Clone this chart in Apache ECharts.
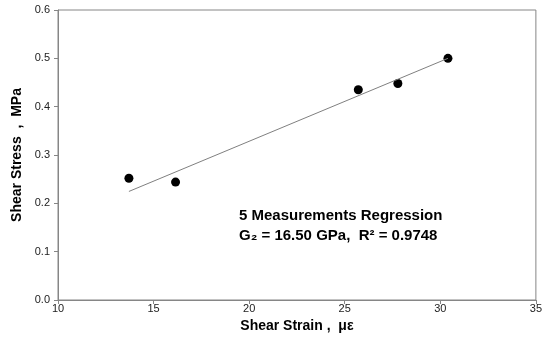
<!DOCTYPE html>
<html>
<head>
<meta charset="utf-8">
<script src="https://cdn.jsdelivr.net/npm/echarts@6/dist/echarts.min.js"></script>
<style>
	html, body { margin: 0; padding: 0; background: #fff; }
	#chart { width: 545px; height: 341px; }
</style>
</head>
<body>
<div id="chart"></div>
<script>
/* Measured points (shear strain in microstrain, shear stress in MPa) */
const strainValues = [13.71, 16.15, 25.71, 27.78, 30.40];
const stressValues = [0.252, 0.244, 0.435, 0.448, 0.500];

/* Regression line end points */
const fitStrain = [13.71, 30.40];
const fitStress = [0.2246, 0.500];

const annotationLines = [
	"5 Measurements Regression",
	"G\u2082 = 16.50 GPa,  R\u00b2 = 0.9748",
];

const axisStyle = () => ({
	lineStyle: { color: "#868686", width: 1 },
});

const chart = echarts.init(document.getElementById("chart"));

chart.setOption({
	animation: false,
	backgroundColor: "#fff",
	grid: { left: 58, right: 9, top: 10, bottom: 41, show: true, borderColor: "#868686", borderWidth: 1 },
	xAxis: {
		type: "value",
		min: 10,
		max: 35,
		interval: 5,
		name: "Shear Strain ,  \u03bc\u03b5",
		nameLocation: "middle",
		nameGap: 17,
		nameTextStyle: { fontFamily: "Liberation Sans", fontWeight: "bold", fontSize: 14, color: "#000" },
		axisLine: axisStyle(),
		axisTick: { show: true, length: 4, lineStyle: { color: "#868686" } },
		axisLabel: { fontFamily: "Liberation Sans", fontSize: 11, color: "#222", margin: 3 },
		splitLine: { show: false },
	},
	yAxis: {
		type: "value",
		min: 0,
		max: 0.6,
		interval: 0.1,
		name: "Shear Stress  ,  MPa",
		nameLocation: "middle",
		nameGap: 34,
		nameTextStyle: { fontFamily: "Liberation Sans", fontWeight: "bold", fontSize: 14, color: "#000" },
		axisLine: axisStyle(),
		axisTick: { show: true, length: 4, lineStyle: { color: "#868686" } },
		axisLabel: {
			fontFamily: "Liberation Sans", fontSize: 11, color: "#222", margin: 8,
			formatter: (v) => v.toFixed(1),
		},
		splitLine: { show: false },
	},
	series: [
		{
			type: "line",
			data: fitStrain.map((x, i) => [x, fitStress[i]]),
			showSymbol: false,
			lineStyle: { color: "#808080", width: 1 },
			silent: true,
		},
		{
			type: "scatter",
			data: strainValues.map((x, i) => [x, stressValues[i]]),
			symbol: "circle",
			symbolSize: 9,
			itemStyle: { color: "#000", opacity: 1 },
		},
	],
	graphic: annotationLines.map((t, i) => ({
		type: "text",
		left: 239,
		top: 208 + i * 20,
		style: {
			text: t,
			fontFamily: "Liberation Sans",
			fontWeight: "bold",
			fontSize: 15,
			fill: "#000",
		},
	})),
});
</script>
</body>
</html>
